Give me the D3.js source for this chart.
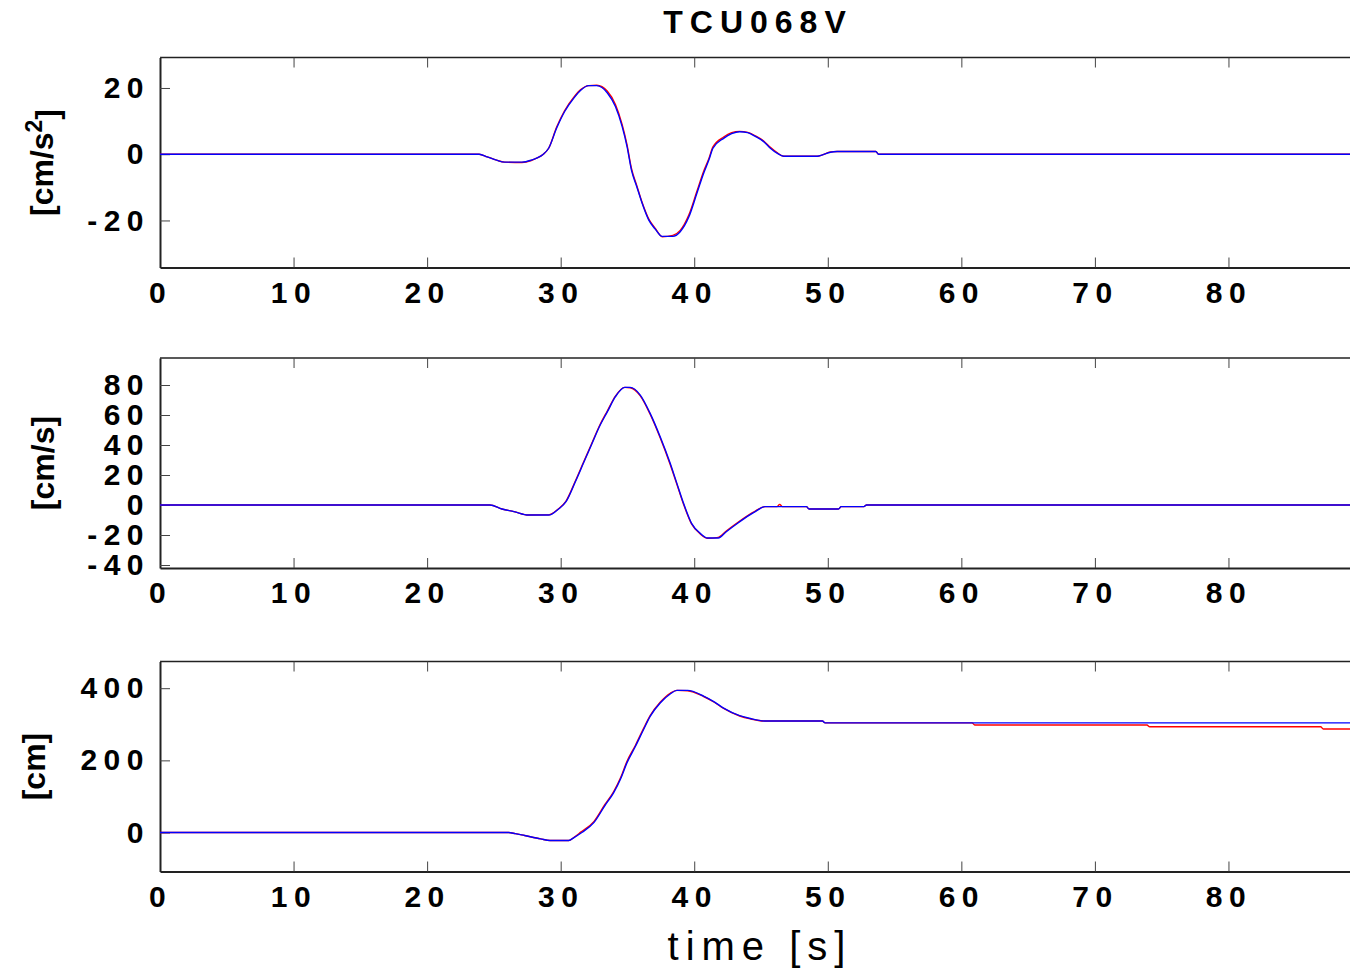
<!DOCTYPE html>
<meta charset="utf-8">
<style>
  body { margin: 0; background: #fff; }
  text { font-family: "Liberation Sans", Arial, sans-serif; }
</style>
<svg width="1350" height="972"></svg>
<script src="https://d3js.org/d3.v7.min.js"></script>
<script>

// acceleration [cm/s^2]
var accTime = [0, 23.9, 24.5, 25.2, 25.8, 27.1, 27.8, 28.2, 28.7, 29.1, 29.7, 30.3, 31.0, 31.5, 32.1, 32.7, 33.5, 34.1, 34.6, 34.97, 35.3, 35.7, 36.1, 36.6, 37.1, 37.6, 38.4, 38.95, 39.6, 40.2, 40.7, 41.1, 41.4, 42.2, 42.8, 43.4, 44.0, 44.6, 45.2, 45.7, 46.2, 46.7, 49.2, 49.6, 50.2, 50.7, 53.6, 53.8, 89.1]
var accBlue = [0, 0, -0.8, -1.8, -2.4, -2.4, -1.8, -1.2, 0, 1.8, 7.9, 12.9, 17.0, 19.3, 20.7, 20.7, 18.5, 14.4, 8.4, 2.3, -4.8, -9.8, -14.8, -19.9, -22.7, -24.8, -24.8, -23.4, -18.9, -11.8, -5.8, -1.7, 1.8, 4.8, 6.2, 6.8, 6.5, 5.3, 3.8, 1.8, 0.3, -0.6, -0.6, -0.2, 0.6, 0.8, 0.8, 0, 0]
var accRed = [0, 0, -0.8, -1.8, -2.4, -2.5, -1.9, -1.2, 0, 1.8, 8.2, 13.2, 17.3, 19.5, 20.7, 20.8, 19.0, 15.0, 9.0, 2.8, -4.3, -9.5, -14.6, -19.6, -22.5, -24.9, -24.5, -23.0, -18.3, -11.2, -5.2, -1.3, 2.2, 5.2, 6.5, 6.9, 6.6, 5.5, 4.0, 2.1, 0.5, -0.6, -0.6, -0.2, 0.7, 0.8, 0.8, 0, 0]

// velocity [cm/s]
var velTime = [0, 24.7, 25.6, 26.5, 27.6, 29.1, 29.8, 30.4, 31.1, 31.7, 32.3, 32.96, 33.5, 34.1, 34.8, 35.2, 35.96, 36.7, 37.45, 38.2, 38.7, 39.2, 39.8, 40.45, 41.0, 41.8, 42.4, 43.2, 43.95, 44.6, 45.3, 46.2, 46.4, 46.6, 48.4, 48.6, 50.8, 51.0, 52.7, 52.9, 89.1]
var velBlue = [0, 0, -2.7, -4.4, -6.7, -6.7, -3.0, 2.2, 15.5, 27.8, 40.0, 53.3, 62.2, 72.2, 78.4, 78.4, 73.3, 61.1, 45.5, 27.8, 14.4, 1.1, -12.2, -18.9, -22.0, -22.0, -17.8, -12.5, -7.8, -4.2, -1.1, -1.1, -1.1, -1.1, -1.1, -2.7, -2.7, -1.1, -1.1, 0, 0]
var velRed = [0, 0, -2.7, -4.4, -6.7, -6.6, -2.8, 2.6, 16.0, 28.3, 40.5, 53.8, 62.8, 72.6, 78.4, 78.2, 72.8, 60.5, 44.8, 27.0, 13.8, 0.5, -12.6, -19.3, -22.2, -21.6, -17.3, -12.0, -7.4, -3.9, -1.1, -1.1, 0.4, -1.1, -1.1, -2.7, -2.7, -1.1, -1.1, 0, 0]

// displacement [cm]
var dispTime = [0, 26.1, 26.6, 27.3, 28.5, 29.2, 30.6, 31.0, 31.5, 32.5, 33.3, 33.96, 34.5, 34.96, 35.6, 36.2, 36.7, 37.45, 38.2, 38.7, 39.5, 40.7, 41.5, 42.2, 43.4, 44.2, 45.3, 49.6, 49.8, 60.8, 61.0, 73.9, 74.1, 86.9, 87.1, 89.1]
var dispBlue = [0, 0, -3, -8.3, -17.5, -22, -22, -14, -2, 28, 74, 110, 150, 193, 239, 285, 322, 359, 384, 394, 394, 378, 362, 345, 324, 316, 309, 309, 304, 304, 304, 304, 304, 304, 304, 304]
var dispRed = [0, 0, -3, -8.3, -17.5, -22, -22, -13, 1, 31, 77, 113, 153, 197, 242, 288, 324, 361, 386, 394, 393, 377, 361, 344, 323, 315, 309, 309, 304, 304, 298, 298, 293, 293, 287, 287]

var xTicks = [0, 10, 20, 30, 40, 50, 60, 70, 80]

var panels = [
  { time: accTime, blue: accBlue, red: accRed, domain: [-34.2, 29.2], ticks: [-20, 0, 20], label: 'acc', top: 57.5, labelX: 53 },
  { time: velTime, blue: velBlue, red: velRed, domain: [-42, 98], ticks: [-40, -20, 0, 20, 40, 60, 80], label: 'vel', top: 358, labelX: 54 },
  { time: dispTime, blue: dispBlue, red: dispRed, domain: [-108, 474], ticks: [0, 200, 400], label: 'disp', top: 661.5, labelX: 45 }
]

var svg = d3.select('svg')
var left = 160, right = 1350, ph = 210
var plain = function (d) { return String(d) }

var x = d3.scaleLinear().domain([0, 89.1]).range([left, right])

panels.forEach(function (p, i) {
  var y = d3.scaleLinear().domain(p.domain).range([p.top + ph, p.top])
  var g = svg.append('g')

  svg.append('clipPath').attr('id', 'clip' + i)
    .append('rect').attr('x', left).attr('y', p.top).attr('width', right - left).attr('height', ph)

  // frame top line
  g.append('line').attr('x1', left).attr('x2', right).attr('y1', p.top).attr('y2', p.top)
    .attr('stroke', '#222').attr('stroke-width', 1.5)

  // bottom axis, ticks point inward
  var xb = g.append('g').attr('transform', 'translate(0,' + (p.top + ph) + ')')
    .call(d3.axisBottom(x).tickValues(xTicks).tickFormat(plain).tickSizeInner(-10).tickSizeOuter(0).tickPadding(14))
  // top mirrored ticks
  var xt = g.append('g').attr('transform', 'translate(0,' + p.top + ')')
    .call(d3.axisTop(x).tickValues(xTicks).tickSizeInner(-10).tickSizeOuter(0).tickFormat(''))
  xt.select('.domain').remove()

  var yl = g.append('g').attr('transform', 'translate(' + left + ',0)')
    .call(d3.axisLeft(y).tickValues(p.ticks).tickFormat(plain).tickSizeInner(-10).tickSizeOuter(0).tickPadding(10))

  ;[xb, yl].forEach(function (a) {
    a.select('.domain').attr('stroke', '#222').attr('stroke-width', 2)
    a.selectAll('text').attr('font-size', 30).attr('font-weight', 'bold')
      .attr('letter-spacing', 6.5).attr('fill', '#000')
  })
  xb.selectAll('.tick line').attr('stroke', '#444')
  xt.selectAll('.tick line').attr('stroke', '#444')
  yl.selectAll('.tick line').attr('stroke', '#444')

  var line = d3.line()
    .curve(d3.curveMonotoneX)
    .x(function (d) { return x(d[0]) })
    .y(function (d) { return y(d[1]) })

  var plot = g.append('g').attr('clip-path', 'url(#clip' + i + ')')
  plot.append('path').datum(p.time.map(function (t, k) { return [t, p.red[k]] }))
    .attr('d', line).attr('fill', 'none').attr('stroke', '#ff0000').attr('stroke-width', 1.4)
  plot.append('path').datum(p.time.map(function (t, k) { return [t, p.blue[k]] }))
    .attr('d', line).attr('fill', 'none').attr('stroke', '#0000ff').attr('stroke-width', 1.4)

  // y label
  var cy = p.top + ph / 2
  var lab = g.append('text')
    .attr('transform', 'translate(' + p.labelX + ',' + cy + ') rotate(-90)')
    .attr('text-anchor', 'middle').attr('font-size', 32).attr('font-weight', 'bold')
  if (p.label === 'acc') {
    lab.append('tspan').text('[cm/s')
    lab.append('tspan').attr('dy', '-0.5em').attr('font-size', 23).text('2')
    lab.append('tspan').attr('dy', '0.5em').text(']')
  } else if (p.label === 'vel') {
    lab.text('[cm/s]')
  } else {
    lab.text('[cm]')
  }
})

svg.append('text').attr('x', 758).attr('y', 33).attr('text-anchor', 'middle')
  .attr('font-size', 32).attr('font-weight', 'bold').attr('letter-spacing', 7)
  .text('TCU068V')

svg.append('text').attr('x', 760).attr('y', 960).attr('text-anchor', 'middle')
  .attr('font-size', 40).attr('letter-spacing', 7)
  .text('time [s]')

</script>
